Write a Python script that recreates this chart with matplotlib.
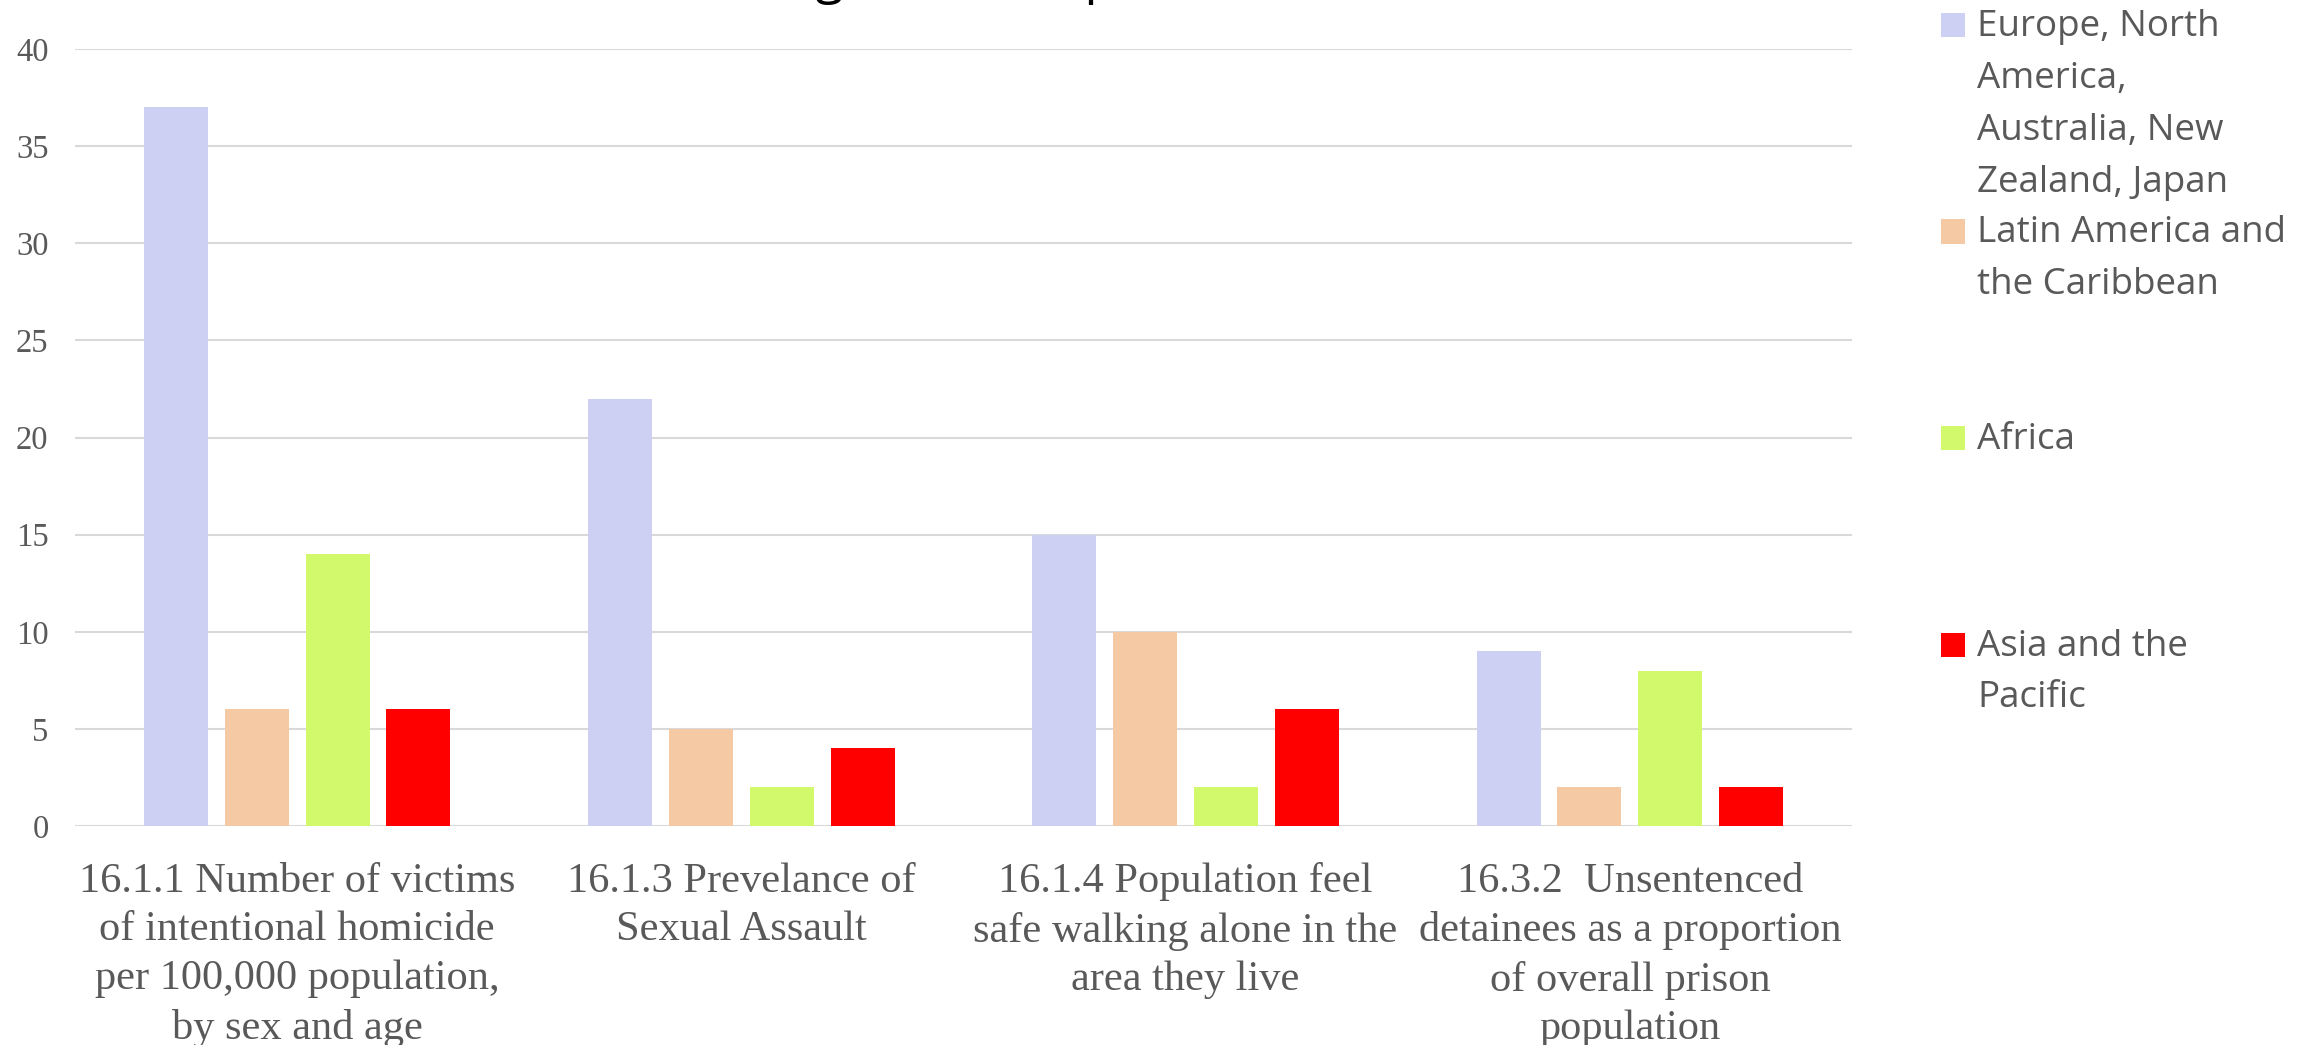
import matplotlib
matplotlib.use('Agg')

import matplotlib.pyplot as plt
from matplotlib.patches import Rectangle
import numpy as np

# Indicators (x categories)
indicators = [
    "16.1.1 Number of victims\nof intentional homicide\nper 100,000 population,\nby sex and age",
    "16.1.3 Prevelance of\nSexual Assault",
    "16.1.4 Population feel\nsafe walking alone in the\narea they live",
    "16.3.2  Unsentenced\ndetainees as a proportion\nof overall prison\npopulation",
]

# Regions (series)
regions = [
    "Europe, North\nAmerica,\nAustralia, New\nZealand, Japan",
    "Latin America and\nthe Caribbean",
    "Africa",
    "Asia and the\nPacific",
]
region_colors = ["#CDD0F2", "#F6C9A5", "#D2F96B", "#FF0000"]

# Values per region, one per indicator
europe_na = [37, 22, 15, 9]
latin_america = [6, 5, 10, 2]
africa = [14, 2, 2, 8]
asia_pacific = [6, 4, 6, 2]
series = [europe_na, latin_america, africa, asia_pacific]

y_ticks = [0, 5, 10, 15, 20, 25, 30, 35, 40]

W, H = 2311, 1045
fig = plt.figure(figsize=(W / 100, H / 100), dpi=100)
ax = fig.add_axes([75 / W, 1 - 826 / H, (1852 - 75) / W, (826 - 49) / H])

grey = "#595959"
x = np.arange(len(indicators))
step = 0.182
width = 0.144
for k, (vals, col) in enumerate(zip(series, region_colors)):
    ax.bar(x + (k - 1.5) * step, vals, width=width, color=col, zorder=3)

ax.set_xlim(-0.5, 3.5)
ax.set_ylim(0, 40)
ax.set_yticks(y_ticks)
ax.set_yticklabels([str(v) for v in y_ticks], family="Liberation Serif",
                   fontsize=23.5, color=grey)
ax.set_xticks(x)
ax.set_xticklabels(indicators, family="Liberation Serif", fontsize=30.5,
                   color=grey, linespacing=1.35)
ax.tick_params(axis="y", length=0, pad=19)
ax.tick_params(axis="x", length=0, pad=26)
ax.grid(axis="y", color="#D9D9D9", linewidth=1.5, zorder=0)
for s in ax.spines.values():
    s.set_visible(False)

# title, mostly cut off at the top edge as in the source image
fig.text(1010 / W, 1 + 7 / H, "Regional Comparison", family="Open Sans",
         fontsize=37, color="black", ha="center", va="baseline")

# legend drawn by hand so the entries sit in equal slots
sq = 24
for k, (lab, col) in enumerate(zip(regions, region_colors)):
    base = 37 + k * 206.5
    fig.add_artist(Rectangle((1941 / W, 1 - (base - 12 + sq / 2) / H),
                             sq / W, sq / H, transform=fig.transFigure,
                             facecolor=col, edgecolor="none"))
    fig.text(1977 / W, 1 - (base - 28) / H, lab, family="Open Sans",
             fontsize=26.5, color=grey, ha="left", va="top", linespacing=1.59)

fig.savefig("out.png", dpi=100)
